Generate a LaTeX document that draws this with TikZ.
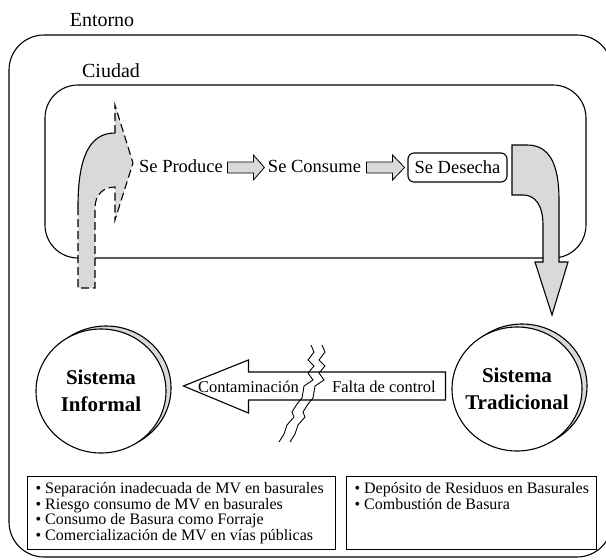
\documentclass[tikz,border=0pt]{standalone}
\usepackage{amssymb}
\usepackage{amsmath}
\usepackage{fontspec}
\setmainfont{Liberation Serif}
\usepackage{tikz}
\usetikzlibrary{shapes}
\definecolor{lightfill}{gray}{0.85}

\begin{document}
\begin{tikzpicture}[x=1pt,y=-1pt,inner sep=0pt,line width=1.1pt,
  regiontext/.style={font=\fontsize{20}{24}\selectfont},
  flowtext/.style={font=\fontsize{18.5}{22}\selectfont},
  arrowtext/.style={font=\fontsize{16.5}{20}\selectfont},
  systext/.style={align=center,font=\fontsize{21}{27}\selectfont\bfseries},
  sysnode/.style={ellipse,draw=black,fill=white,minimum width=130pt,minimum height=124pt},
  sysshadow/.style={ellipse,draw=black,fill=lightfill,minimum width=130pt,minimum height=124pt},
  grayarrow/.style={draw=black,fill=lightfill},
  listbox/.style={rectangle,draw=black,anchor=north west,minimum height=73pt},
  listtext/.style={anchor=north west,align=left,font=\fontsize{16}{15.5}\selectfont}]
\useasboundingbox (0,0) rectangle (606,560);
%Regions
\draw[rounded corners=35pt] (9,35) rectangle (612,557);
\draw[rounded corners=33pt] (45,85) rectangle (586,258);
\node[regiontext] (entorno) at (102,20) {Entorno};
\node[regiontext] (ciudad) at (111,71) {Ciudad};
%Flow Nodes
\node[flowtext,anchor=base] (produce) at (181,172) {Se Produce};
\node[flowtext,anchor=base] (consume) at (314.5,172) {Se Consume};
\node[flowtext,draw,rounded corners=6pt,minimum width=99pt,minimum height=29pt] (desecha) at (457.5,167.5) {Se Desecha};
%Flow Arrows
\draw[grayarrow,line width=0.8pt] (produce.base east) ++(4,-10) -- ++(26,0) -- ++(0,-7) -- ++(11,12.5) -- ++(-11,12.5) -- ++(0,-7) -- ++(-26,0) -- cycle;
\draw[grayarrow,line width=0.8pt] (consume.base east) ++(5,-10) -- ++(26,0) -- ++(0,-7) -- ++(12,12.5) -- ++(-12,12.5) -- ++(0,-7) -- ++(-26,0) -- cycle;
%Recycled Arrow
\fill[lightfill] (78,288) -- (78,207) .. controls (78,160) and (88,133) .. (115,133) -- (115,105) -- (133,163) -- (115,220) -- (115,187) .. controls (103,187) and (95,195) .. (95,208) -- (95,288) -- cycle;
\draw (78,207) .. controls (78,160) and (88,133) .. (115,133);
\draw[dash pattern=on 8pt off 4pt] (115,133) -- (115,105) -- (133,163) -- (115,220) -- (115,187) .. controls (103,187) and (95,195) .. (95,208) -- (95,288) -- (78,288) -- (78,207);
%Disposal Arrow
\draw[grayarrow] (512,145) -- (527,145) .. controls (550,145) and (559,165) .. (559,200) -- (559,262) -- (568,262) -- (552,315) -- (535,262) -- (543,262) -- (543,225) .. controls (543,205) and (535,195) .. (523,195) -- (512,195) -- cycle;
%Systems
\node[sysshadow] (informalshadow) at (106,388) {};
\node[sysnode,label={[systext]center:{Sistema\\Informal}}] (informal) at (101,391) {};
\node[sysshadow] (tradicionalshadow) at (522,386) {};
\node[sysnode,label={[systext]center:{Sistema\\Tradicional}}] (tradicional) at (517,389) {};
%Control Arrow
\draw[fill=white] (tradicional.west) ++(-6,-17) -- ++(-197,0) -- ++(0,-12) -- ++(-65,26) -- ++(65,27) -- ++(0,-13) -- ++(197,0) -- cycle;
\node[arrowtext,anchor=base] (contam) at (248.5,392) {Contaminación};
\node[arrowtext,anchor=base] (falta) at (384,392) {Falta de control};
%Cracks
\draw[line width=0.9pt] (311,345) -- (314,352) -- (308,360) -- (314,366) -- (308,373) -- (313,380) -- (304,386) -- (302,398) -- (297,404) -- (292,412) -- (294,417) -- (287,425) -- (284,434) -- (279,442);
\draw[line width=0.9pt] (322,345) -- (325,352) -- (319,360) -- (325,366) -- (319,373) -- (324,380) -- (315,386) -- (313,398) -- (308,404) -- (303,412) -- (305,417) -- (298,425) -- (295,434) -- (290,442);
%Lists
\node[listbox,minimum width=308pt] (informallist) at (27,476) {};
\node[listtext] at ([xshift=8pt,yshift=-6pt]informallist.north west) {• Separación inadecuada de MV en basurales\\• Riesgo consumo de MV en basurales\\• Consumo de Basura como Forraje\\• Comercialización de MV en vías públicas};
\node[listbox,minimum width=250pt] (tradicionallist) at (346,476) {};
\node[listtext] at ([xshift=8pt,yshift=-6pt]tradicionallist.north west) {• Depósito de Residuos en Basurales\\• Combustión de Basura};

\end{tikzpicture}
\end{document}
